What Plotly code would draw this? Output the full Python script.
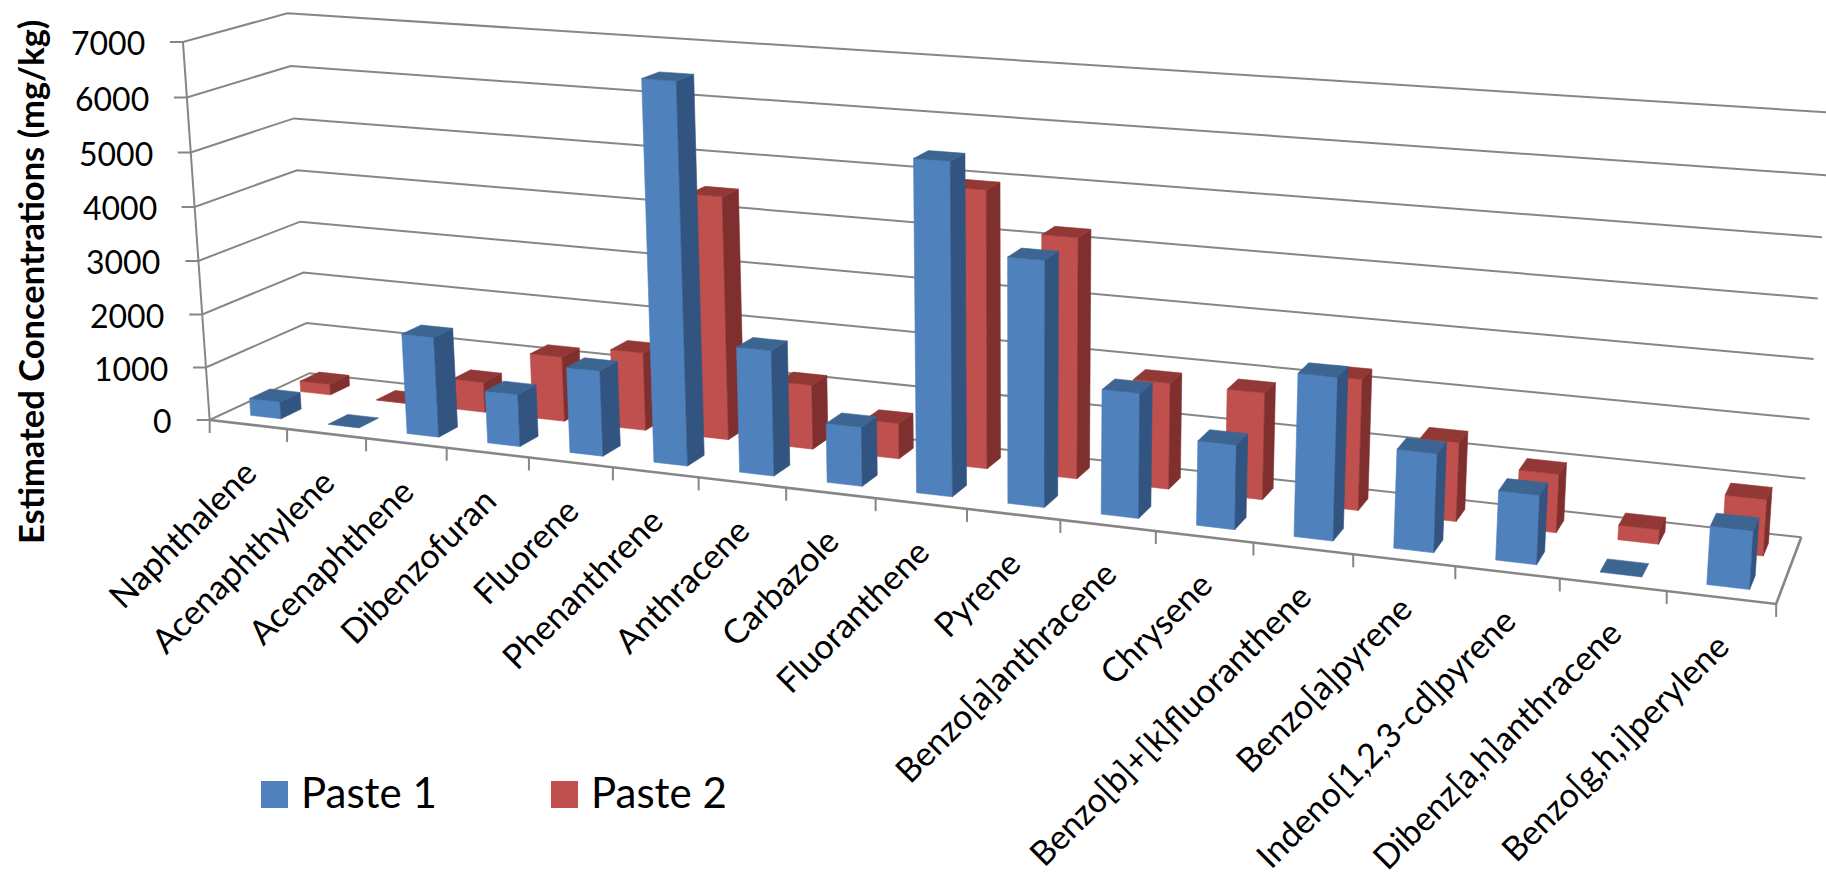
import numpy as np
import plotly.graph_objects as go

categories = ["Naphthalene", "Acenaphthylene", "Acenaphthene", "Dibenzofuran", "Fluorene",
              "Phenanthrene", "Anthracene", "Carbazole", "Fluoranthene", "Pyrene",
              "Benzo[a]anthracene", "Chrysene", "Benzo[b]+[k]fluoranthene", "Benzo[a]pyrene",
              "Indeno[1,2,3-cd]pyrene", "Dibenz[a,h]anthracene", "Benzo[g,h,i]perylene"]
paste_1 = [322, 0, 1859, 966, 1562, 6808, 2247, 1054, 5788, 4254, 2155, 1448, 2755, 1661, 1155, 0, 956]
paste_2 = [204, 5, 572, 1216, 1453, 4456, 1179, 646, 4956, 4259, 1875, 1870, 2270, 1361, 998, 245, 944]
value_ticks = [0, 1000, 2000, 3000, 4000, 5000, 6000, 7000]

# Screen positions of the plot box edges, listed per value tick, used to fit the camera
edge_front_left = [(209.7, 420), (205.9, 367.3), (202.1, 314.3), (198.2, 260.7),
                   (194.4, 207), (190.6, 152.3), (186.8, 97.3), (183, 42.3)]
edge_back_left = [(309.2, 372.7), (306.2, 323.3), (303.5, 273), (300.4, 221.7),
                  (297, 170.3), (293.9, 118.3), (290.9, 66), (287.8, 13.3)]
edge_back_right = [(1800.8, 536.6), (1805.6, 478.8), (1809.6, 419.6), (1814, 359),
                   (1818, 298.7), (1822, 237.7), (1826, 175), (1830, 112)]
# Screen x of each category tick along the front floor edge
front_tick_x = [209.7, 287, 366.2, 447, 529, 613, 699, 787, 875.6, 967, 1060, 1155.6,
                1253, 1353, 1455.5, 1559.7, 1666.3, 1776.8]

GRID = "#868686"
BLUE = {"front": "#4F81BD", "side": "#325480", "top": "#3D6592"}
RED = {"front": "#C0504D", "side": "#7F2F2D", "top": "#923835"}
N = len(categories)
VMAX = value_ticks[-1]


def fit_camera():
    """Least-squares 3x4 projection from box coordinates to screen coordinates."""
    world, screen = [], []
    for val, a, b, c in zip(value_ticks, edge_front_left, edge_back_left, edge_back_right):
        world += [(0, 0, val), (0, 1, val), (N, 1, val)]
        screen += [a, b, c]
    for i, x in enumerate(front_tick_x):
        world.append((i, 0, 0))
        screen.append((x, 420 + (x - 209.7) * 0.1174))
    rows = []
    for (u, v, w), (x, y) in zip(world, screen):
        X = [u / N, v, w / VMAX, 1.0]
        sx, sy = x / 1826, y / 877
        rows.append(X + [0, 0, 0, 0] + [-sx * t for t in X])
        rows.append([0, 0, 0, 0] + X + [-sy * t for t in X])
    return np.linalg.svd(np.array(rows))[2][-1].reshape(3, 4)


CAM = fit_camera()


def project(u, v, w):
    h = CAM @ np.array([u / N, v, w / VMAX, 1.0])
    return h[0] / h[2] * 1826, h[1] / h[2] * 877


fig = go.Figure()


def polyline(points, width=2.0):
    fig.add_trace(go.Scatter(x=[p[0] for p in points], y=[p[1] for p in points], mode="lines",
                             line=dict(color=GRID, width=width), hoverinfo="skip", showlegend=False))


# Wall gridlines, value ticks and the vertical value axis
for val in value_ticks:
    a = project(0, 0, val)
    polyline([(a[0] - 13, a[1]), a, project(0, 1, val), project(N, 1, val)])
polyline([project(0, 0, 0), project(0, 0, VMAX)])

# Floor outline and category ticks
polyline([project(0, 0, 0), project(N, 0, 0), project(N, 1, 0)], 2.6)
for i in range(N + 1):
    p = project(i, 0, 0)
    polyline([p, (p[0], p[1] + 13)])


def add_face(corners, color, name, text):
    fig.add_trace(go.Scatter(x=[c[0] for c in corners] + [corners[0][0]],
                             y=[c[1] for c in corners] + [corners[0][1]],
                             mode="lines", fill="toself", fillcolor=color,
                             line=dict(color=color, width=0.6), name=name,
                             hovertext=text, hoverinfo="text", showlegend=False))


def add_bar(i, val, v0, palette, name):
    u0, u1 = i + 0.325, i + 0.72
    v1 = v0 + 0.2
    text = f"{categories[i]}: {val}"
    if val > 0:
        add_face([project(u0, v0, 0), project(u1, v0, 0), project(u1, v0, val), project(u0, v0, val)],
                 palette["front"], name, text)
        add_face([project(u1, v0, 0), project(u1, v1, 0), project(u1, v1, val), project(u1, v0, val)],
                 palette["side"], name, text)
    add_face([project(u0, v0, val), project(u1, v0, val), project(u1, v1, val), project(u0, v1, val)],
             palette["top"], name, text)


# Back row first so the front row overlaps it
for i, val in enumerate(paste_2):
    add_bar(i, val, 0.655, RED, "Paste 2")
for i, val in enumerate(paste_1):
    add_bar(i, val, 0.155, BLUE, "Paste 1")

annotations = []
for val in value_ticks:
    p = project(0, 0, val)
    annotations.append(dict(x=p[0] - 36, y=p[1] + 1, text=str(val), showarrow=False, xanchor="right",
                            yanchor="middle", font=dict(family="Lato", size=32, color="black")))
for i, name in enumerate(categories):
    p = project(i + 0.5, 0, 0)
    annotations.append(dict(x=p[0] + 18, y=p[1] + 24, text=name, showarrow=False, textangle=-45,
                            xanchor="right", yanchor="top",
                            font=dict(family="Lato", size=34, color="black")))
annotations.append(dict(x=30, y=282, text="<b>Estimated Concentrations (mg/kg)</b>", showarrow=False,
                        textangle=-90, font=dict(family="Lato", size=34.5, color="black")))

# Legend keys and names
shapes = []
for name, color, key_x in [("Paste 1", BLUE["front"], 261), ("Paste 2", RED["front"], 551)]:
    shapes.append(dict(type="rect", x0=key_x, x1=key_x + 27, y0=781, y1=808,
                       fillcolor=color, line=dict(width=0)))
    annotations.append(dict(x=key_x + 38, y=792, text=name, showarrow=False, xanchor="left",
                            yanchor="middle", font=dict(family="Lato", size=42, color="black")))

fig.update_layout(width=1826, height=877, margin=dict(l=0, r=0, t=0, b=0),
                  paper_bgcolor="white", plot_bgcolor="white", showlegend=False,
                  xaxis=dict(range=[0, 1826], visible=False),
                  yaxis=dict(range=[877, 0], visible=False),
                  annotations=annotations, shapes=shapes)
fig.write_html("out.html")
